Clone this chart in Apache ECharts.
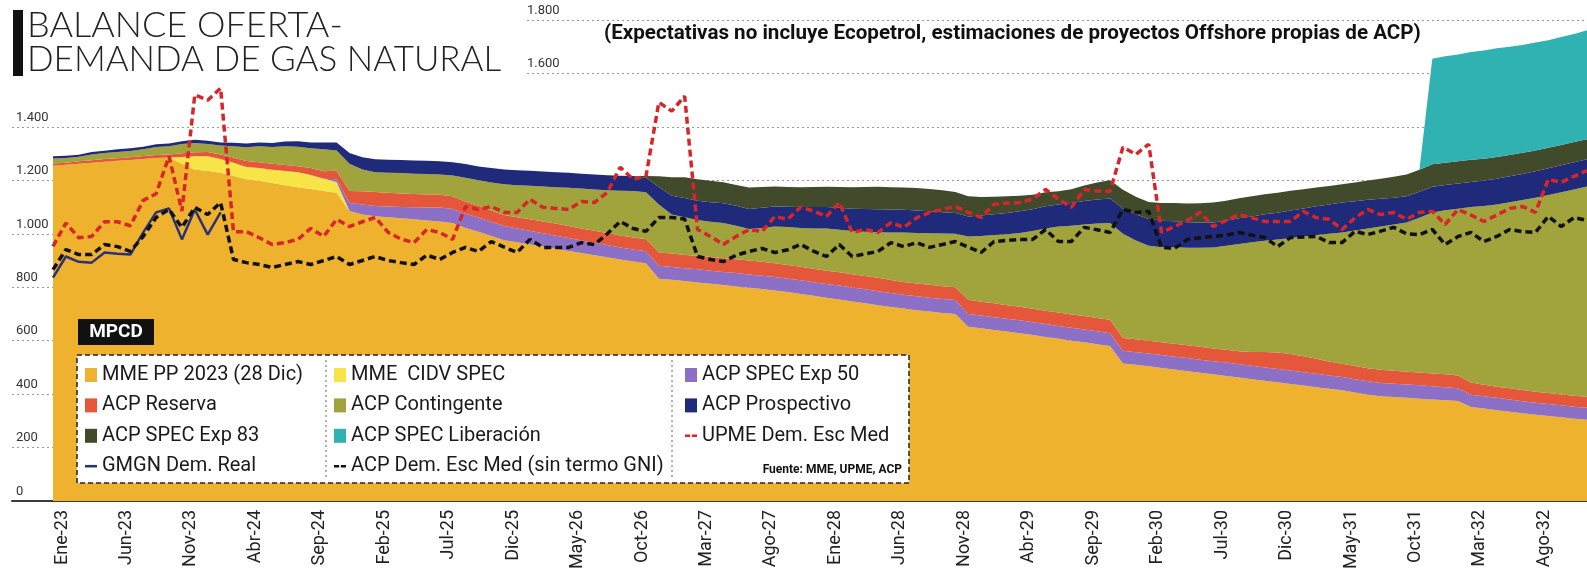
<!DOCTYPE html>
<html>
<head>
<meta charset="utf-8">
<title>Balance oferta-demanda de gas natural</title>
<script src="https://cdn.jsdelivr.net/npm/echarts/dist/echarts.min.js"></script>
<style>
  html, body { margin: 0; padding: 0; background: #fff; }
  #chart { width: 1587px; height: 573px; }
</style>
</head>
<body>
<div id="chart"></div>
<script>
// meses: Ene-23 ... Dic-32
const monthNames = ['Ene','Feb','Mar','Abr','May','Jun','Jul','Ago','Sep','Oct','Nov','Dic']
const years = [23,24,25,26,27,28,29,30,31,32]
const months = []
years.forEach(y => monthNames.forEach(m => months.push(m + '-' + y)))

// capas apiladas (MPCD)
const mmePP = [
  1255,1258,1262,1266,1270,1273,1276,1280,1284,1285,
  1262,1240,1236,1228,1216,1204,1198,1190,1182,1174,
  1168,1160,1154,1085,1072,1066,1062,1058,1054,1050,
  1046,1040,1022,1008,992,976,968,960,952,944,
  936,928,920,912,904,896,890,832,828,823,
  818,813,808,803,798,793,788,782,775,768,
  761,754,747,740,733,726,720,714,709,704,
  700,652,646,640,634,628,621,614,607,600,
  594,587,580,515,510,504,498,492,486,480,
  474,468,462,456,450,444,438,432,426,420,
  414,406,398,392,389,386,383,380,377,374,
  352,346,340,334,328,323,318,313,308,304
]
const mmeCidv = [
  0,0,0,0,0,0,0,0,0,0,
  25,50,54,52,50,46,48,50,53,56,
  52,46,40,0,0,0,0,0,0,0,
  0,0,0,0,0,0,0,0,0,0,
  0,0,0,0,0,0,0,0,0,0,
  0,0,0,0,0,0,0,0,0,0,
  0,0,0,0,0,0,0,0,0,0,
  0,0,0,0,0,0,0,0,0,0,
  0,0,0,0,0,0,0,0,0,0,
  0,0,0,0,0,0,0,0,0,0,
  0,0,0,0,0,0,0,0,0,0,
  0,0,0,0,0,0,0,0,0,0
]
const acpExp50 = [
  0,0,0,0,0,0,0,0,0,0,
  0,0,0,0,0,0,0,0,0,0,
  0,0,10,30,38,38,40,42,45,48,
  52,53,53,53,53,53,52,51,50,49,
  48,47,46,46,45,45,45,48,48,48,
  49,49,49,50,50,50,50,50,51,51,
  51,52,52,52,52,52,52,52,52,52,
  52,48,48,48,48,48,48,48,48,48,
  48,48,48,47,47,48,48,48,49,49,
  49,50,50,50,50,50,50,50,50,50,
  50,50,50,50,50,50,50,49,49,48,
  46,46,46,46,45,45,45,45,45,45
]
const acpReserva = [
  8,8,9,9,10,10,10,11,11,12,
  14,15,16,17,19,22,22,22,22,23,
  26,28,32,45,49,52,52,51,50,49,
  48,47,45,44,42,41,42,43,44,45,
  45,45,45,45,45,45,45,50,50,50,
  51,51,51,52,52,52,52,51,51,50,
  50,50,50,50,50,49,48,48,48,48,
  48,53,52,52,51,51,50,50,50,50,
  50,50,50,48,48,48,48,48,48,48,
  48,48,48,52,58,62,62,60,56,52,
  50,49,49,49,48,48,48,48,48,48,
  45,43,42,42,42,41,41,41,41,41
]
const acpContingente = [
  19,18,17,22,22,23,24,25,30,31,
  35,35,30,33,43,52,60,63,71,73,
  74,82,76,102,82,74,74,76,76,77,
  76,78,90,95,105,115,120,126,131,136,
  143,149,155,160,167,174,175,180,146,141,
  134,132,132,125,118,127,137,142,145,151,
  158,159,161,166,171,178,185,189,193,197,
  200,237,246,255,265,276,291,308,322,332,
  343,353,362,390,370,355,356,362,365,371,
  378,389,402,410,416,423,434,448,463,478,
  491,507,523,536,548,558,579,603,614,624,
  657,669,682,696,711,726,741,756,772,787
]
const acpProspectivo = [
  8,8,8,9,9,10,10,10,10,10,
  10,12,12,12,13,14,14,15,17,20,
  22,26,30,40,45,49,49,49,49,49,
  49,50,51,52,54,56,56,56,56,56,
  56,56,56,56,56,56,56,65,70,72,
  72,73,74,75,75,75,75,76,78,80,
  80,82,84,85,86,86,85,84,82,80,
  78,75,76,78,80,81,82,83,83,85,
  88,90,92,95,98,100,99,97,95,94,
  93,94,96,97,99,100,103,105,108,110,
  112,110,107,104,100,98,97,96,95,94,
  94,95,96,97,98,99,100,101,102,102
]
const acpExp83 = [
  0,0,0,0,0,0,0,0,0,0,
  0,0,0,0,0,0,0,0,0,0,
  0,0,0,0,0,0,0,0,0,0,
  0,0,0,0,0,0,0,0,0,0,
  0,0,0,0,0,0,5,40,70,78,
  80,80,79,78,80,78,75,74,74,75,
  76,78,80,82,84,83,83,84,84,82,
  78,75,70,66,62,58,54,52,49,52,
  58,64,68,70,66,64,66,68,70,72,
  75,75,75,75,75,75,74,72,70,69,
  68,70,72,75,78,82,83,84,83,83,
  83,82,81,80,79,78,77,76,75,75
]
const acpLiberacion = [
  0,0,0,0,0,0,0,0,0,0,
  0,0,0,0,0,0,0,0,0,0,
  0,0,0,0,0,0,0,0,0,0,
  0,0,0,0,0,0,0,0,0,0,
  0,0,0,0,0,0,0,0,0,0,
  0,0,0,0,0,0,0,0,0,0,
  0,0,0,0,0,0,0,0,0,0,
  0,0,0,0,0,0,0,0,0,0,
  0,0,0,0,0,0,0,0,0,0,
  0,0,0,0,0,0,0,0,0,0,
  0,0,0,0,0,0,0,395,398,400,
  403,405,407,405,403,404,402,404,405,408
]

// demandas
const upmeDem = [
  953,1040,985,990,1045,1045,1030,1125,1150,1290,
  1085,1520,1500,1545,1008,1008,985,960,967,979,
  1020,990,1054,1027,1045,1061,1005,980,967,1016,
  1005,979,1102,1091,1102,1080,1080,1129,1099,1095,
  1091,1121,1117,1155,1249,1204,1215,1492,1459,1515,
  1016,990,960,990,1016,1009,1065,1054,1100,1085,
  1065,1117,1005,1016,1005,1042,1024,1060,1080,1091,
  1102,1080,1061,1110,1115,1117,1130,1166,1130,1099,
  1166,1160,1159,1324,1297,1335,1005,1027,1050,1080,
  1027,1050,1072,1060,1046,1046,1046,1084,1060,1054,
  1016,1060,1091,1072,1080,1054,1080,1084,1035,1091,
  1070,1046,1070,1095,1102,1080,1204,1192,1215,1236
]
const acpDem = [
  866,941,922,922,960,952,934,990,1061,1091,
  1024,1099,1072,1117,904,892,885,874,885,896,
  885,900,915,885,900,915,900,892,885,920,
  904,930,949,934,971,950,930,979,949,949,
  949,967,960,1000,1046,1020,1009,1061,1061,1055,
  915,904,896,920,934,945,930,940,960,935,
  915,960,915,925,934,967,952,967,949,960,
  971,950,930,971,975,979,979,1016,971,971,
  1024,1015,1005,1091,1080,1084,949,945,979,985,
  990,995,1005,995,986,952,986,988,990,967,
  967,1009,997,1010,1024,1000,997,1016,960,990,
  1005,971,990,1016,1008,1005,1065,1027,1061,1050
]
const gmgnReal = [836,915,895,892,930,925,922,1005,1080,1095,979,1091,997,1080]

const yTicksLow = [0, 1400]   // rango de etiquetas a la izquierda
const yTicksHigh = [1400, 1800] // rango de etiquetas junto al titulo

const font = 'Roboto, "Noto Sans", sans-serif'

function fmt(v) {
  if (v < 1000) return String(v)
  return Math.floor(v / 1000) + '.' + String(v % 1000).padStart(3, '0')
}

const chart = echarts.init(document.getElementById('chart'))

// posiciones: 0 en y=501, 1800 en y=20
const top0 = 20, bottom0 = 72
const plotH = 573 - top0 - bottom0
const y1400 = 573 - bottom0 - plotH * 1400 / 1800

function area(name, data, color) {
  return {
    name: name, type: 'line', stack: 'oferta', data: data,
    xAxisIndex: 0, yAxisIndex: 0,
    symbol: 'none', showSymbol: false, smooth: false,
    lineStyle: { width: 0 },
    itemStyle: { color: color },
    areaStyle: { color: color, opacity: 1 },
    emphasis: { disabled: true },
    z: 2
  }
}

const dashIcon = 'path://M0,0h6v3h-6z M8,0h6v3h-6z'
const lineIcon = 'path://M0,0h14v3h-14z'

const legendBase = {
  orient: 'vertical', selectedMode: false, padding: 0,
  itemWidth: 12, itemHeight: 14, itemGap: 10.4,
  textStyle: { fontFamily: font, fontSize: 20, color: '#1a1a1a', lineHeight: 20 },
  z: 10
}

const gridLine = { show: true, lineStyle: { color: '#9a9a9a', type: [2, 3], width: 1 } }

const option = {
  animation: false,
  backgroundColor: '#fff',
  grid: [
    { left: 53, right: 0, top: top0, bottom: bottom0 },
    { left: 12, right: 0, top: y1400, bottom: bottom0 },
    { left: 527, right: 0, top: top0, bottom: 573 - y1400 }
  ],
  xAxis: [
    {
      type: 'category', gridIndex: 0, data: months, boundaryGap: false,
      axisLine: { show: false }, axisTick: { show: false },
      axisLabel: {
        interval: 4, rotate: 90, margin: 9, verticalAlign: 'top', lineHeight: 18,
        fontFamily: font, fontSize: 18, color: '#222'
      },
      splitLine: { show: false }
    },
    {
      type: 'value', gridIndex: 1, min: 0, max: 1,
      axisLine: { show: true, lineStyle: { color: '#3a3a3a', width: 2 } },
      axisTick: { show: false }, axisLabel: { show: false }, splitLine: { show: false }
    },
    { type: 'value', gridIndex: 2, min: 0, max: 1, show: false }
  ],
  yAxis: [
    { type: 'value', gridIndex: 0, min: 0, max: 1800, show: false },
    {
      type: 'value', gridIndex: 1, min: yTicksLow[0], max: yTicksLow[1], interval: 200,
      axisLine: { show: false }, axisTick: { show: false },
      axisLabel: {
        inside: true, margin: 4, verticalAlign: 'bottom', padding: [0, 0, 3, 0],
        fontFamily: font, fontSize: 13, color: '#333', formatter: fmt
      },
      splitLine: gridLine
    },
    {
      type: 'value', gridIndex: 2, min: yTicksHigh[0], max: yTicksHigh[1], interval: 200,
      axisLine: { show: false }, axisTick: { show: false },
      axisLabel: {
        inside: true, margin: 0, verticalAlign: 'bottom', padding: [0, 0, 3, 0],
        fontFamily: font, fontSize: 13, color: '#333',
        formatter: v => (v === yTicksHigh[0] ? '' : fmt(v))
      },
      splitLine: gridLine
    }
  ],
  legend: [
    Object.assign({}, legendBase, {
      left: 85, top: 365,
      data: [
        { name: 'MME PP 2023 (28 Dic)', icon: 'rect' },
        { name: 'ACP Reserva', icon: 'rect' },
        { name: 'ACP SPEC Exp 83', icon: 'rect' },
        { name: 'GMGN Dem. Real', icon: lineIcon }
      ]
    }),
    Object.assign({}, legendBase, {
      left: 334, top: 365,
      data: [
        { name: 'MME  CIDV SPEC', icon: 'rect' },
        { name: 'ACP Contingente', icon: 'rect' },
        { name: 'ACP SPEC Liberación', icon: 'rect' },
        { name: 'ACP Dem. Esc Med (sin termo GNI)', icon: dashIcon }
      ]
    }),
    Object.assign({}, legendBase, {
      left: 685, top: 365,
      data: [
        { name: 'ACP SPEC Exp 50', icon: 'rect' },
        { name: 'ACP Prospectivo', icon: 'rect' },
        { name: 'UPME Dem. Esc Med', icon: dashIcon }
      ]
    })
  ],
  graphic: [
    // titulo
    { type: 'rect', z: 5, shape: { x: 13, y: 10, width: 10, height: 66 }, style: { fill: '#111' } },
    { type: 'text', z: 5, x: 27, y: 25, style: { text: 'BALANCE OFERTA-', font: '300 36px Lato, "Open Sans", sans-serif', fill: '#222', verticalAlign: 'middle' } },
    { type: 'text', z: 5, x: 27, y: 60, style: { text: 'DEMANDA DE GAS NATURAL', font: '300 35px Lato, "Open Sans", sans-serif', fill: '#222', verticalAlign: 'middle' } },
    { type: 'text', z: 5, x: 604, y: 34, style: { text: '(Expectativas no incluye Ecopetrol, estimaciones de proyectos Offshore propias de ACP)', font: 'bold 20.6px Roboto, sans-serif', fill: '#111', verticalAlign: 'middle' } },
    // unidad
    { type: 'rect', z: 5, shape: { x: 78, y: 319, width: 76, height: 26 }, style: { fill: '#111' } },
    { type: 'text', z: 6, x: 116, y: 332, style: { text: 'MPCD', font: 'bold 19px Roboto, sans-serif', fill: '#fff', align: 'center', verticalAlign: 'middle' } },
    // caja de leyenda
    { type: 'rect', z: 3, shape: { x: 77, y: 355, width: 832, height: 128 }, style: { fill: '#fff', stroke: '#222', lineWidth: 1.5, lineDash: [5, 3] } },
    { type: 'line', z: 4, shape: { x1: 326, y1: 360, x2: 326, y2: 478 }, style: { stroke: '#666', lineWidth: 1, lineDash: [2, 3] } },
    { type: 'line', z: 4, shape: { x1: 672, y1: 360, x2: 672, y2: 478 }, style: { stroke: '#666', lineWidth: 1, lineDash: [2, 3] } },
    { type: 'text', z: 4, x: 902, y: 470, style: { text: 'Fuente: MME, UPME, ACP', font: 'bold 12px Roboto, sans-serif', fill: '#111', align: 'right', verticalAlign: 'middle' } }
  ],
  series: [
    area('MME PP 2023 (28 Dic)', mmePP, '#efb22e'),
    area('MME  CIDV SPEC', mmeCidv, '#f7e548'),
    area('ACP SPEC Exp 50', acpExp50, '#8b70c6'),
    area('ACP Reserva', acpReserva, '#e5573a'),
    area('ACP Contingente', acpContingente, '#a1a33c'),
    area('ACP Prospectivo', acpProspectivo, '#1f2a7a'),
    area('ACP SPEC Exp 83', acpExp83, '#414b2c'),
    area('ACP SPEC Liberación', acpLiberacion, '#2fb2b1'),
    {
      name: 'GMGN Dem. Real', type: 'line', data: gmgnReal, symbol: 'none',
      itemStyle: { color: '#2b3275' }, lineStyle: { color: '#2b3275', width: 2.5 },
      emphasis: { disabled: true }, z: 5
    },
    {
      name: 'ACP Dem. Esc Med (sin termo GNI)', type: 'line', data: acpDem, symbol: 'none',
      itemStyle: { color: '#111' }, lineStyle: { color: '#111', width: 3.5, type: [7, 4] },
      emphasis: { disabled: true }, z: 6
    },
    {
      name: 'UPME Dem. Esc Med', type: 'line', data: upmeDem, symbol: 'none',
      itemStyle: { color: '#d6262a' }, lineStyle: { color: '#d6262a', width: 3.5, type: [7, 4] },
      emphasis: { disabled: true }, z: 7
    }
  ]
}

chart.setOption(option)
</script>
</body>
</html>
